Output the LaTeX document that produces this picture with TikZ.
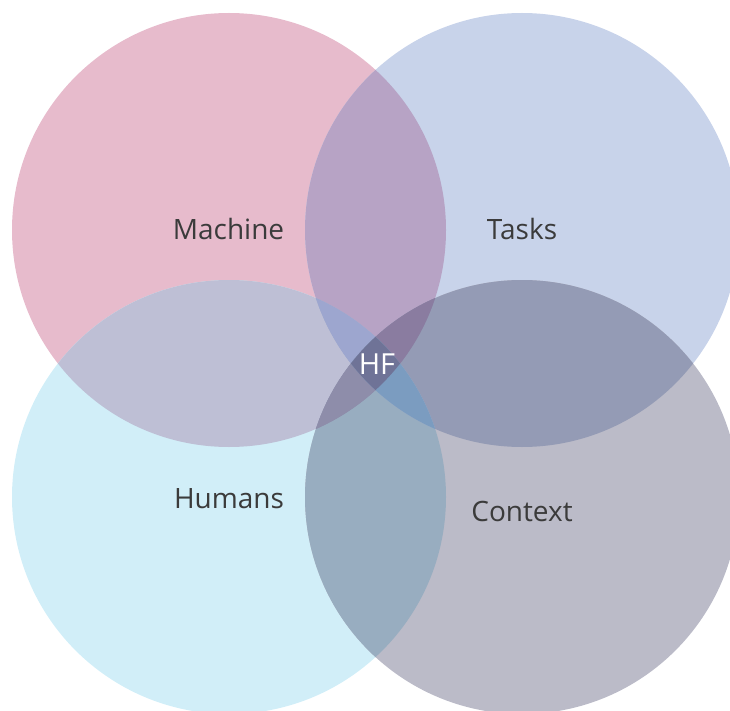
\documentclass[tikz,border=0pt]{standalone}
\usepackage{fontspec}
\setmainfont{Open Sans}
\definecolor{cM}{HTML}{E7BBCC}
\definecolor{cT}{HTML}{C8D3EA}
\definecolor{cH}{HTML}{D1EEF8}
\definecolor{cC}{HTML}{BBBBC8}
\definecolor{cMT}{HTML}{B7A3C5}
\definecolor{cMH}{HTML}{BEBFD5}
\definecolor{cTC}{HTML}{949BB5}
\definecolor{cHC}{HTML}{98ADC0}
\definecolor{cMC}{HTML}{8C88A8}
\definecolor{cTH}{HTML}{9AA8CC}
\definecolor{cMTH}{HTML}{9DA6CF}
\definecolor{cMTC}{HTML}{8A7CA0}
\definecolor{cMHC}{HTML}{8E8DAA}
\definecolor{cTHC}{HTML}{7B9CC0}
\definecolor{cMTHC}{HTML}{6F7397}
\definecolor{txt}{HTML}{3B3B3B}
\begin{document}
\begin{tikzpicture}[x=1pt,y=-1pt,
  lbl/.style={text=txt,font=\fontsize{28}{32}\selectfont,inner sep=0pt},
  hf/.style={text=white,font=\fontsize{29}{33}\selectfont,inner sep=0pt}]
\def\R{217}
\useasboundingbox (0,0) rectangle (730,711);
\clip (0,0) rectangle (730,711);
\coordinate (M) at (229,230);
\coordinate (T) at (522,230);
\coordinate (H) at (229,497);
\coordinate (C) at (522,497);
% single circles
\fill[cM] (M) circle[radius=\R];
\fill[cT] (T) circle[radius=\R];
\fill[cH] (H) circle[radius=\R];
\fill[cC] (C) circle[radius=\R];
% pairs
\begin{scope}\clip (M) circle[radius=\R]; \fill[cMT] (T) circle[radius=\R];\end{scope}
\begin{scope}\clip (M) circle[radius=\R]; \fill[cMH] (H) circle[radius=\R];\end{scope}
\begin{scope}\clip (T) circle[radius=\R]; \fill[cTC] (C) circle[radius=\R];\end{scope}
\begin{scope}\clip (H) circle[radius=\R]; \fill[cHC] (C) circle[radius=\R];\end{scope}
\begin{scope}\clip (M) circle[radius=\R]; \fill[cMC] (C) circle[radius=\R];\end{scope}
\begin{scope}\clip (T) circle[radius=\R]; \fill[cTH] (H) circle[radius=\R];\end{scope}
% triples
\begin{scope}\clip (M) circle[radius=\R]; \clip (T) circle[radius=\R]; \fill[cMTH] (H) circle[radius=\R];\end{scope}
\begin{scope}\clip (M) circle[radius=\R]; \clip (T) circle[radius=\R]; \fill[cMTC] (C) circle[radius=\R];\end{scope}
\begin{scope}\clip (M) circle[radius=\R]; \clip (H) circle[radius=\R]; \fill[cMHC] (C) circle[radius=\R];\end{scope}
\begin{scope}\clip (T) circle[radius=\R]; \clip (H) circle[radius=\R]; \fill[cTHC] (C) circle[radius=\R];\end{scope}
% all four
\begin{scope}\clip (M) circle[radius=\R]; \clip (T) circle[radius=\R]; \clip (H) circle[radius=\R]; \fill[cMTHC] (C) circle[radius=\R];\end{scope}
% labels
\node[lbl] (lm) at (228.5,229) {Machine};
\node[lbl] (lt) at (522,229) {Tasks};
\node[lbl] (lh) at (229,498.5) {Humans};
\node[lbl] (lc) at (522,511) {Context};
\node[hf] (lhf) at (377,364.5) {HF};
\end{tikzpicture}
\end{document}
